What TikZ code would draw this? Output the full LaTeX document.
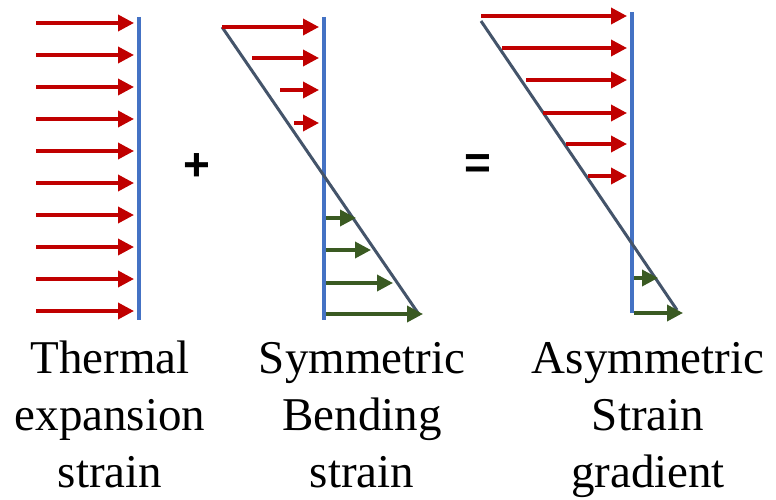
\documentclass[tikz,border=0pt]{standalone}
\usepackage{fontspec}
\setmainfont{Liberation Serif}
\setsansfont{Liberation Sans}
\usepackage{xcolor}
\usepackage{tikz}
\usetikzlibrary{
  positioning,
  arrows.meta
}
\definecolor{strainred}{HTML}{C00000}
\definecolor{straingreen}{HTML}{3A5A22}
\definecolor{wallblue}{HTML}{4472C4}
\definecolor{slopegray}{HTML}{44546A}
\tikzset{
  redarrow/.style={-{Triangle[length=16pt,width=16pt]},line width=3.6pt,draw=strainred},
  greenarrow/.style={-{Triangle[length=16pt,width=16pt]},line width=3.6pt,draw=straingreen},
  wall/.style={line width=4pt,draw=wallblue},
  slopeline/.style={line width=3pt,draw=slopegray},
  caption/.style={align=center,anchor=base,inner sep=0pt,font=\fontsize{47}{57}\selectfont},
  opsign/.style={inner sep=0pt,font=\sffamily\bfseries\fontsize{46}{46}\selectfont}
}
\begin{document}
\begin{tikzpicture}[x=1pt,y=-1pt]
    \useasboundingbox (0,0) rectangle (776,500);

    % thermal expansion strain
    \coordinate (wa1) at (139,17);
    \coordinate (wa2) at (139,320);
    \draw[wall] (wa1) -- (wa2);
    \foreach \k in {0,...,9} {
        \coordinate (ta\k) at (36,23+32*\k);
        \coordinate (ha\k) at (134,23+32*\k);
        \draw[redarrow] (ta\k) -- (ha\k);
    }

    % symmetric bending strain
    \coordinate (wb1) at (324,17);
    \coordinate (wb2) at (324,320);
    \coordinate (sb1) at (222,27);
    \coordinate (sb2) at (418,313);
    \draw[wall] (wb1) -- (wb2);
    \draw[slopeline] (sb1) -- (sb2);
    \foreach \xs/\y/\id in {222/27/1,252/58/2,280/90/3,294/123/4} {
        \coordinate (tb\id) at (\xs,\y);
        \coordinate (hb\id) at (319,\y);
        \draw[redarrow] (tb\id) -- (hb\id);
    }
    \foreach \xe/\y/\id in {356/218/1,371/250/2,393/283/3,423/314/4} {
        \coordinate (gb\id) at (326,\y);
        \coordinate (kb\id) at (\xe,\y);
        \draw[greenarrow] (gb\id) -- (kb\id);
    }

    % asymmetric strain gradient
    \coordinate (wc1) at (632,12);
    \coordinate (wc2) at (632,313);
    \coordinate (sc1) at (481,21);
    \coordinate (sc2) at (677,310);
    \draw[wall] (wc1) -- (wc2);
    \draw[slopeline] (sc1) -- (sc2);
    \foreach \xs/\y/\id in {481/16/1,502/48/2,526/80/3,543/113/4,566/144/5,588/176/6} {
        \coordinate (tc\id) at (\xs,\y);
        \coordinate (hc\id) at (627,\y);
        \draw[redarrow] (tc\id) -- (hc\id);
    }
    \foreach \xe/\y/\id in {658/278/1,683/313/2} {
        \coordinate (gc\id) at (634,\y);
        \coordinate (kc\id) at (\xe,\y);
        \draw[greenarrow] (gc\id) -- (kc\id);
    }

    \node[opsign] (plus) at (197,167) {+};
    \node[opsign] (equals) at (478,167) {=};

    \node[caption] (capa) at (110,487) {Thermal\\expansion\\strain};
    \node[caption] (capb) at (362,487) {Symmetric\\Bending\\strain};
    \node[caption] (capc) at (648,487) {Asymmetric\\Strain\\gradient};
\end{tikzpicture}
\end{document}
